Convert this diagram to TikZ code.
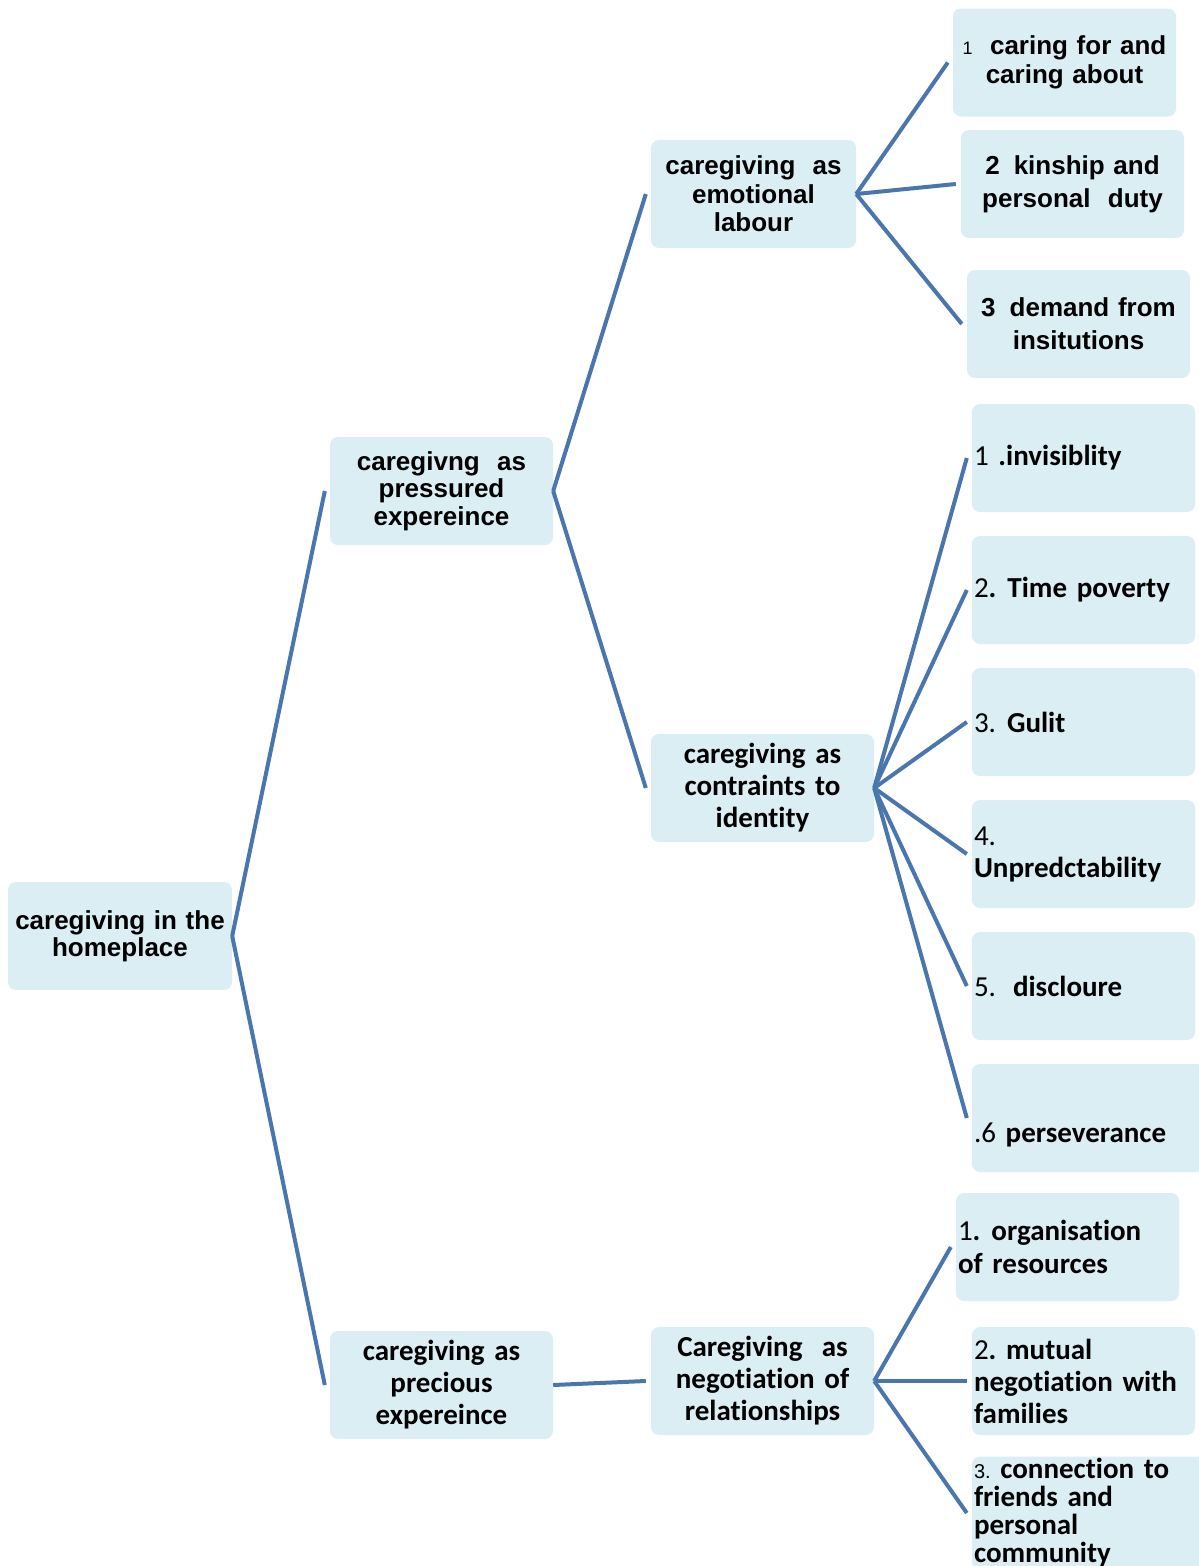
\documentclass[tikz,border=0pt]{standalone}
\usepackage{fontspec}
\setmainfont{Liberation Sans}
\newfontfamily\calibf[Ligatures={NoCommon}]{Carlito}
\frenchspacing
\definecolor{boxfill}{HTML}{DAEEF3}
\definecolor{linkblue}{HTML}{4A76AE}
\tikzset{
  card/.style={fill=boxfill, rounded corners=8pt, inner sep=2pt, minimum height=108pt},
  link/.style={draw=linkblue, line width=4pt},
  arialtext/.style={font=\fontsize{26}{#1}\selectfont\bfseries},
  arialtext/.default=28,
  calibtext/.style={font=\calibf\fontsize{29}{#1}\selectfont\bfseries},
  calibtext/.default=32,
}
\begin{document}
\begin{tikzpicture}[x=1pt,y=-1pt]
\useasboundingbox (0,0) rectangle (1199,1566);

% level 0
\node[card, arialtext=27, text width=220pt, align=center] (root) at (120,936)
  {caregiving in the\\homeplace};

% level 1
\node[card, arialtext=27.5, text width=219pt, align=center] (press) at (441.5,491)
  {caregivng\ \ as\\pressured\\expereince};
\node[card, calibtext, text width=219pt, align=center] (prec) at (441.5,1385)
  {caregiving as\\precious\\expereince};

% level 2
\node[card, arialtext=28.5, text width=201pt, align=center] (emo) at (753.5,194)
  {caregiving\ \ as\\emotional\\labour};
\node[card, calibtext, text width=219pt, align=center] (ident) at (762.5,788)
  {caregiving as\\contraints to\\identity};
\node[card, calibtext, text width=219pt, align=center] (nego) at (762.5,1381)
  {Caregiving\ \ as\\negotiation of\\relationships};

% level 3: emotional labour
\node[card, arialtext=29, text width=219pt, align=center] (care) at (1064.5,62.5)
  {{\fontsize{18}{18}\mdseries 1}\ \ caring for and\\caring about};
\node[card, arialtext=33, text width=219pt, align=center] (kin) at (1072.5,184)
  {2\hspace{14pt}kinship and\\personal\ \ duty};
\node[card, arialtext=33, text width=219pt, align=center] (dem) at (1078.5,324)
  {3\hspace{14pt}demand from\\insitutions};

% level 3: identity
\node[card, calibtext, text width=219pt, align=left] (inv) at (1083.5,458)
  {{\mdseries 1} .invisiblity};
\node[card, calibtext, text width=219pt, align=left] (time) at (1083.5,590)
  {{\mdseries 2}.\hspace{11pt}Time poverty};
\node[card, calibtext, text width=219pt, align=left] (guilt) at (1083.5,722)
  {{\mdseries 3.}\hspace{11pt}Gulit};
\node[card, calibtext, text width=219pt, align=left] (unpred) at (1083.5,854)
  {{\mdseries 4.}\\Unpredctability};
\node[card, calibtext, text width=219pt, align=left] (discl) at (1083.5,986)
  {{\mdseries 5.}\hspace{17pt}discloure};
\node[card, calibtext, text width=229pt, align=left] (persev) at (1088.5,1118)
  {\strut\\{\mdseries .6} perseverance};

% level 3: negotiation
\node[card, calibtext=33, text width=219pt, align=left] (org) at (1067.5,1247)
  {{\mdseries 1}.\hspace{11pt}organisation\\of resources};
\node[card, calibtext, text width=219pt, align=left] (mut) at (1083.5,1381)
  {{\mdseries 2}. mutual\\negotiation with\\families};
\node[card, calibtext=28, text width=229pt, align=left] (conn) at (1088.5,1513)
  {{\rmfamily\fontsize{20}{20}\mdseries 3.} connection to\\friends and\\personal\\community};

% connectors
\draw[link] (root.east) -- ([xshift=-5pt]press.west);
\draw[link] (root.east) -- ([xshift=-5pt]prec.west);

\draw[link] (press.east) -- ([xshift=-5pt]emo.west);
\draw[link] (press.east) -- ([xshift=-5pt]ident.west);
\draw[link] (prec.east) -- ([xshift=-5pt]nego.west);

\draw[link] (emo.east) -- ([xshift=-5pt]care.west);
\draw[link] (emo.east) -- ([xshift=-5pt]kin.west);
\draw[link] (emo.east) -- ([xshift=-5pt]dem.west);

\foreach \leaf in {inv,time,guilt,unpred,discl,persev}
  \draw[link] (ident.east) -- ([xshift=-5pt]\leaf.west);

\foreach \leaf in {org,mut,conn}
  \draw[link] (nego.east) -- ([xshift=-5pt]\leaf.west);
\end{tikzpicture}
\end{document}
